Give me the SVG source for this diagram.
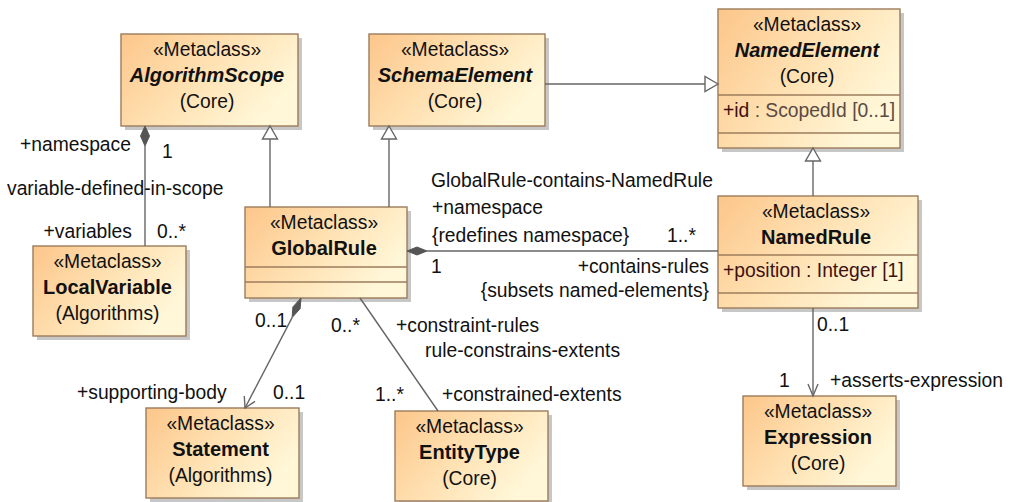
<svg xmlns="http://www.w3.org/2000/svg" width="1010" height="502" viewBox="0 0 1010 502">
<defs>
<linearGradient id="g" x1="0" y1="0" x2="1" y2="0.5">
<stop offset="0" stop-color="#fcc68a"/>
<stop offset="0.55" stop-color="#ffe2b4"/>
<stop offset="1" stop-color="#fff7d8"/>
</linearGradient>
<style>
.box{fill:url(#g);stroke:#9c7c5c;stroke-width:1.4}
.sh{fill:#b4b4b4;opacity:0.75}
.sep{stroke:#9c7c5c;stroke-width:1.4}
text{font-family:"Liberation Sans",Arial,sans-serif;font-size:19.3px;fill:#111}
.c{text-anchor:middle}
.e{text-anchor:end}
.n{font-weight:bold;font-size:20px}
.ni{font-weight:bold;font-style:italic;font-size:20px}
.at{fill:#401010}
.ag{fill:#5a4a44}
.ln{stroke:#666;stroke-width:1.4;fill:none}
.gen{fill:#fff;stroke:#666;stroke-width:1.4}
.dia{fill:#555;stroke:#555;stroke-width:1}
</style>
</defs>
<rect width="1010" height="502" fill="#fff"/>

<g id="AlgorithmScope">
<rect class="sh" x="125" y="38" width="177" height="92"/>
<rect class="box" x="121" y="34" width="177" height="92"/>
<text class="c" x="207" y="56">«Metaclass»</text>
<text class="c ni" x="207" y="82">AlgorithmScope</text>
<text class="c" x="207" y="108">(Core)</text>
</g>

<g id="SchemaElement">
<rect class="sh" x="373" y="38" width="176" height="92"/>
<rect class="box" x="369" y="34" width="176" height="92"/>
<text class="c" x="455" y="56">«Metaclass»</text>
<text class="c ni" x="455" y="82">SchemaElement</text>
<text class="c" x="455" y="108">(Core)</text>
</g>

<g id="NamedElement">
<rect class="sh" x="722" y="13" width="182" height="139"/>
<rect class="box" x="718" y="9" width="182" height="139"/>
<line class="sep" x1="718" y1="95" x2="900" y2="95"/>
<line class="sep" x1="718" y1="133" x2="900" y2="133"/>
<text class="c" x="807" y="31">«Metaclass»</text>
<text class="c ni" x="807" y="57">NamedElement</text>
<text class="c" x="807" y="83">(Core)</text>
<text x="723" y="117"><tspan class="at">+id</tspan><tspan class="ag"> : ScopedId [0..1]</tspan></text>
</g>

<g id="GlobalRule">
<rect class="sh" x="249" y="211" width="162" height="91"/>
<rect class="box" x="245" y="207" width="162" height="91"/>
<line class="sep" x1="245" y1="267" x2="407" y2="267"/>
<line class="sep" x1="245" y1="282" x2="407" y2="282"/>
<text class="c" x="324" y="229">«Metaclass»</text>
<text class="c n" x="324" y="255">GlobalRule</text>
</g>

<g id="NamedRule">
<rect class="sh" x="722" y="200" width="200" height="112"/>
<rect class="box" x="718" y="196" width="200" height="112"/>
<line class="sep" x1="718" y1="255" x2="918" y2="255"/>
<line class="sep" x1="718" y1="293" x2="918" y2="293"/>
<text class="c" x="816" y="218">«Metaclass»</text>
<text class="c n" x="816" y="244">NamedRule</text>
<text class="at" x="723" y="277">+position : Integer [1]</text>
</g>

<g id="LocalVariable">
<rect class="sh" x="37" y="250" width="153" height="90"/>
<rect class="box" x="33" y="246" width="153" height="90"/>
<text class="c" x="107.5" y="268">«Metaclass»</text>
<text class="c n" x="107.5" y="294">LocalVariable</text>
<text class="c" x="107.5" y="320">(Algorithms)</text>
</g>

<g id="Statement">
<rect class="sh" x="150" y="412" width="153" height="90"/>
<rect class="box" x="146" y="408" width="153" height="90"/>
<text class="c" x="220.5" y="430">«Metaclass»</text>
<text class="c n" x="220.5" y="456">Statement</text>
<text class="c" x="220.5" y="482">(Algorithms)</text>
</g>

<g id="EntityType">
<rect class="sh" x="399" y="415" width="153" height="90"/>
<rect class="box" x="395" y="411" width="153" height="90"/>
<text class="c" x="469.5" y="433">«Metaclass»</text>
<text class="c n" x="469.5" y="459">EntityType</text>
<text class="c" x="469.5" y="485">(Core)</text>
</g>

<g id="Expression">
<rect class="sh" x="747" y="400" width="153" height="90"/>
<rect class="box" x="743" y="396" width="153" height="90"/>
<text class="c" x="818" y="418">«Metaclass»</text>
<text class="c n" x="818" y="444">Expression</text>
<text class="c" x="818" y="470">(Core)</text>
</g>

<g id="connectors">
<!-- AlgorithmScope - LocalVariable -->
<polygon class="dia" points="145,126 149.5,136 145,146 140.5,136"/>
<line class="ln" x1="145" y1="146" x2="145" y2="246"/>
<text x="20" y="151">+namespace</text>
<text x="162" y="158">1</text>
<text x="7" y="195">variable-defined-in-scope</text>
<text class="e" x="132" y="238">+variables</text>
<text x="157" y="238">0..*</text>

<!-- generalizations -->
<line class="ln" x1="270" y1="207" x2="270" y2="139"/>
<polygon class="gen" points="270,126 277.5,139 262.5,139"/>
<line class="ln" x1="389" y1="207" x2="389" y2="139"/>
<polygon class="gen" points="389,126 396.5,139 381.5,139"/>
<line class="ln" x1="545" y1="84" x2="705" y2="84"/>
<polygon class="gen" points="718,84 705,76.5 705,91.5"/>
<line class="ln" x1="813" y1="196" x2="813" y2="161"/>
<polygon class="gen" points="813,148 820.5,161 805.5,161"/>

<!-- GlobalRule - NamedRule -->
<polygon class="dia" points="407,251 417,247 427,251 417,255"/>
<line class="ln" x1="427" y1="251" x2="718" y2="251"/>
<text x="431" y="187">GlobalRule-contains-NamedRule</text>
<text x="432" y="214">+namespace</text>
<text x="432" y="242">{redefines namespace}</text>
<text x="667" y="242">1..*</text>
<text x="431" y="273">1</text>
<text class="e" x="709" y="273">+contains-rules</text>
<text class="e" x="709" y="297">{subsets named-elements}</text>

<!-- GlobalRule - Statement -->
<polygon class="dia" points="301,298 300.1,308.7 292.1,317.6 292.9,306.9"/>
<line class="ln" x1="292.1" y1="317.6" x2="245" y2="408"/>
<polyline class="ln" points="255,401.4 245,408 244.3,396"/>
<text x="255" y="327">0..1</text>
<text x="77" y="399">+supporting-body</text>
<text x="273" y="399">0..1</text>

<!-- GlobalRule - EntityType -->
<line class="ln" x1="360" y1="298" x2="438" y2="411"/>
<text x="331" y="332">0..*</text>
<text x="396" y="332">+constraint-rules</text>
<text x="425" y="357">rule-constrains-extents</text>
<text x="375" y="401">1..*</text>
<text x="442" y="401">+constrained-extents</text>

<!-- NamedRule - Expression -->
<line class="ln" x1="813" y1="308" x2="813" y2="396"/>
<polyline class="ln" points="808,384 813,396 818,384"/>
<text x="817" y="331">0..1</text>
<text x="779" y="387">1</text>
<text x="830" y="387">+asserts-expression</text>
</g>
</svg>
